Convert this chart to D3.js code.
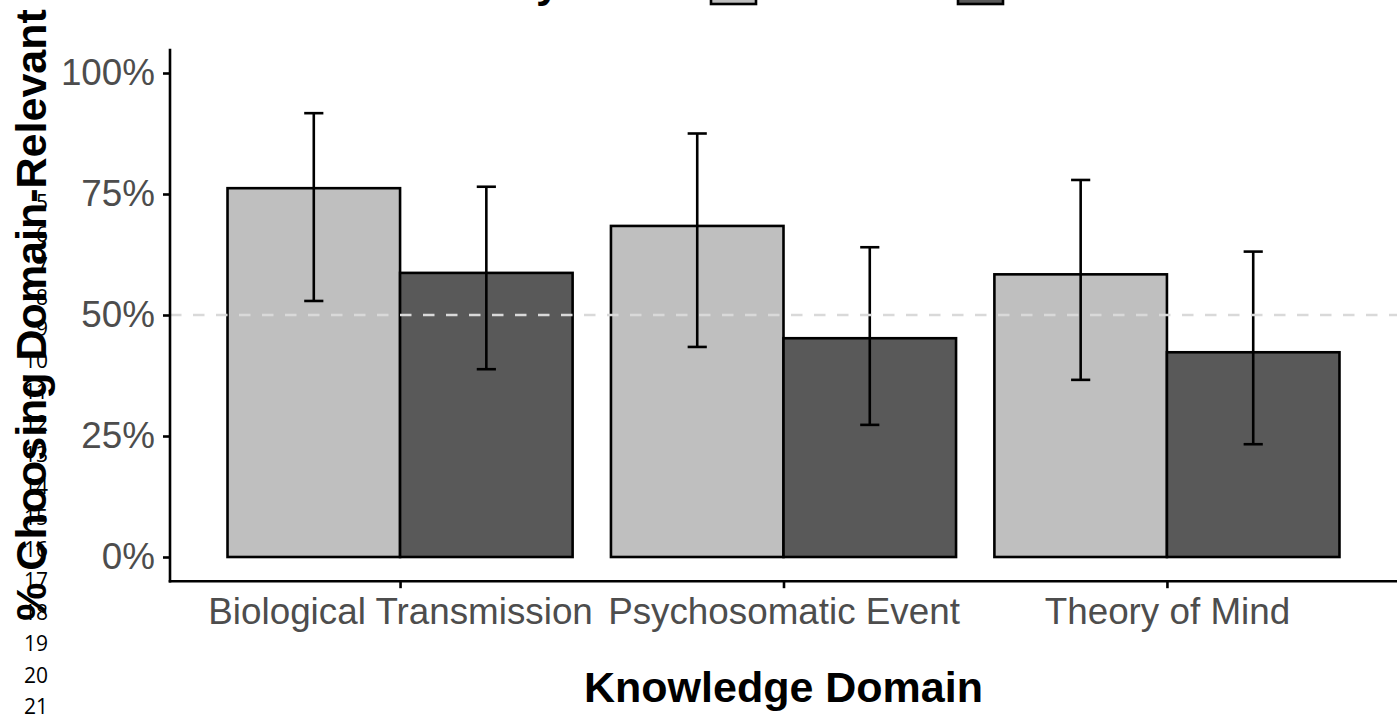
<!DOCTYPE html>
<html lang="en">

<head>
    <meta charset="UTF-8">
    <title>Knowledge Domain</title>
    <script src="https://d3js.org/d3.v7.min.js"></script>
    <style>
        body {
            margin: 0;
            background: #fff;
        }

        text {
            font-family: "Liberation Sans", Arial, sans-serif;
        }

        .tick text {
            fill: #4d4d4d;
            font-size: 36.8px;
        }

        .lineno {
            font-family: "Open Sans", sans-serif;
            font-size: 21px;
        }
    </style>
</head>

<body>
    <div id="chart"></div>

    <script>
        const width = 1400;
        const height = 721;

        // data
        const domains = ["Biological Transmission", "Psychosomatic Event", "Theory of Mind"];
        const series = ["A", "B"];
        const meanA = [0.762, 0.684, 0.584];
        const meanB = [0.587, 0.452, 0.423];
        const lowA = [0.529, 0.434, 0.366];
        const highA = [0.917, 0.875, 0.779];
        const lowB = [0.388, 0.273, 0.233];
        const highB = [0.765, 0.640, 0.631];
        const yTicks = [0, 0.25, 0.5, 0.75, 1];
        const chance = 0.5;
        const lineNumbers = d3.range(5, 22);

        const fills = { A: "#bfbfbf", B: "#595959" };

        const rows = [];
        domains.forEach((d, i) => {
            rows.push({ domain: d, group: "A", mean: meanA[i], lo: lowA[i], hi: highA[i] });
            rows.push({ domain: d, group: "B", mean: meanB[i], lo: lowB[i], hi: highB[i] });
        });

        const panel = { left: 170, right: 1397 };

        const x = d3.scalePoint()
            .domain(domains)
            .range([panel.left, panel.right])
            .padding(0.6);
        const step = x.step();

        const xSub = d3.scaleBand()
            .domain(series)
            .range([-0.45 * step, 0.45 * step])
            .padding(0);

        const y = d3.scaleLinear()
            .domain([0, 1])
            .range([557, 73]);

        const svg = d3.select("#chart")
            .append("svg")
            .attr("width", width)
            .attr("height", height);

        // bars
        svg.append("g")
            .selectAll("rect")
            .data(rows)
            .join("rect")
            .attr("x", d => x(d.domain) + xSub(d.group))
            .attr("y", d => y(d.mean))
            .attr("width", xSub.bandwidth())
            .attr("height", d => y(0) - y(d.mean))
            .attr("fill", d => fills[d.group])
            .attr("stroke", "black")
            .attr("stroke-width", 2.6);

        // error bars
        const cap = step * 0.025;
        const eb = svg.append("g")
            .attr("stroke", "black")
            .attr("stroke-width", 2.6)
            .selectAll("g")
            .data(rows)
            .join("g")
            .attr("transform", d => `translate(${x(d.domain) + xSub(d.group) + xSub.bandwidth() / 2},0)`);
        eb.append("line")
            .attr("y1", d => y(d.lo))
            .attr("y2", d => y(d.hi));
        eb.append("line")
            .attr("x1", -cap).attr("x2", cap)
            .attr("y1", d => y(d.hi)).attr("y2", d => y(d.hi));
        eb.append("line")
            .attr("x1", -cap).attr("x2", cap)
            .attr("y1", d => y(d.lo)).attr("y2", d => y(d.lo));

        // chance line
        svg.append("line")
            .attr("x1", panel.left)
            .attr("x2", panel.right)
            .attr("y1", y(chance))
            .attr("y2", y(chance))
            .attr("stroke", "#d9d9d9")
            .attr("stroke-width", 2.6)
            .attr("stroke-dasharray", "11.5,11.5");

        // axes
        const yAxis = svg.append("g")
            .attr("transform", `translate(${panel.left},0)`)
            .call(d3.axisLeft(y).tickValues(yTicks).tickFormat(d3.format(".0%")).tickSize(7).tickPadding(8));
        yAxis.select(".domain").remove();
        yAxis.selectAll(".tick line").attr("stroke-width", 2.6);

        const xAxis = svg.append("g")
            .attr("transform", `translate(0,${y(-0.05)})`)
            .call(d3.axisBottom(x).tickSize(7).tickPadding(10));
        xAxis.select(".domain").remove();
        xAxis.selectAll(".tick line").attr("stroke-width", 2.6);

        svg.append("line")
            .attr("x1", panel.left).attr("x2", panel.left)
            .attr("y1", y(1.05)).attr("y2", y(-0.05) + 1.3)
            .attr("stroke", "black").attr("stroke-width", 2.6);
        svg.append("line")
            .attr("x1", panel.left - 1.3).attr("x2", panel.right)
            .attr("y1", y(-0.05)).attr("y2", y(-0.05))
            .attr("stroke", "black").attr("stroke-width", 2.6);

        // axis titles
        svg.append("text")
            .attr("x", (panel.left + panel.right) / 2)
            .attr("y", 702)
            .attr("text-anchor", "middle")
            .attr("font-size", 43)
            .attr("font-weight", "bold")
            .text("Knowledge Domain");

        svg.append("text")
            .attr("transform", `translate(46,${(y(1.05) + y(-0.05)) / 2}) rotate(-90)`)
            .attr("text-anchor", "middle")
            .attr("font-size", 43)
            .attr("font-weight", "bold")
            .text("% Choosing Domain-Relevant");

        // legend, mostly above the visible area
        svg.append("text")
            .attr("x", 560)
            .attr("y", -3)
            .attr("text-anchor", "end")
            .attr("font-size", 43)
            .attr("font-weight", "bold")
            .text("Study");

        svg.append("g")
            .selectAll("rect")
            .data(series)
            .join("rect")
            .attr("x", (d, i) => 711 + i * 247)
            .attr("y", -41)
            .attr("width", 45)
            .attr("height", 45)
            .attr("fill", d => fills[d])
            .attr("stroke", "black")
            .attr("stroke-width", 2.6);

        // manuscript line numbers bleeding into the figure
        svg.append("g")
            .selectAll("text")
            .data(lineNumbers)
            .join("text")
            .attr("class", "lineno")
            .attr("x", 48)
            .attr("y", d => 714 - (21 - d) * 31.5)
            .attr("text-anchor", "end")
            .text(d => d);
    </script>
</body>

</html>
